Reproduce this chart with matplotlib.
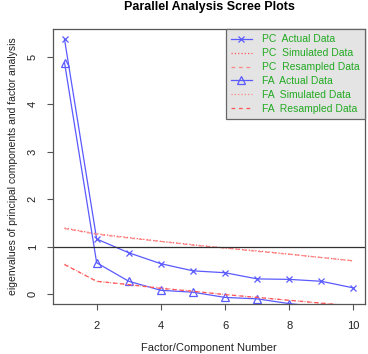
import matplotlib
matplotlib.use("Agg")
import matplotlib.pyplot as plt

plt.rcParams['font.family'] = ['Liberation Sans', 'DejaVu Sans']

factors = [1, 2, 3, 4, 5, 6, 7, 8, 9, 10]
pc_actual = [5.36, 1.16, 0.87, 0.64, 0.49, 0.45, 0.32, 0.31, 0.27, 0.13]
pc_simulated = [1.39, 1.27, 1.19, 1.11, 1.04, 0.97, 0.91, 0.84, 0.77, 0.70]
pc_resampled = [1.38, 1.26, 1.18, 1.11, 1.03, 0.97, 0.90, 0.84, 0.77, 0.70]
fa_actual = [4.87, 0.66, 0.27, 0.08, 0.04, -0.07, -0.10, -0.20, -0.27, -0.33]
fa_simulated = [0.63, 0.27, 0.20, 0.13, 0.06, -0.01, -0.07, -0.13, -0.19, -0.25]
fa_resampled = [0.62, 0.27, 0.20, 0.12, 0.06, -0.01, -0.07, -0.13, -0.19, -0.25]

blue = '#5a5aff'
red = '#ff5555'
light_red = '#ff8888'

fig = plt.figure(figsize=(3.68, 3.54), dpi=100)
ax = fig.add_axes([0.144, 0.141, 0.848, 0.777])

ax.plot(factors, pc_actual, color=blue, lw=0.9, marker='x', ms=5, mew=0.9,
        label='PC  Actual Data')
ax.plot(factors, pc_simulated, color=red, lw=0.9, ls=':', label='PC  Simulated Data')
ax.plot(factors, pc_resampled, color=light_red, lw=0.9, ls=(0, (3, 3)),
        label='PC  Resampled Data')
ax.plot(factors, fa_actual, color=blue, lw=0.9, marker='^', ms=6, mew=0.9,
        fillstyle='none', label='FA  Actual Data')
ax.plot(factors, fa_simulated, color=light_red, lw=0.9, ls=':', label='FA  Simulated Data')
ax.plot(factors, fa_resampled, color=red, lw=0.9, ls=(0, (3, 3)),
        label='FA  Resampled Data')
ax.axhline(1, color='#303030', lw=0.9)

ax.set_xlim(0.64, 10.36)
ax.set_ylim(-0.21, 5.58)
ax.set_xticks([2, 4, 6, 8, 10])
ax.set_yticks([0, 1, 2, 3, 4, 5])
ax.tick_params(labelsize=8, length=4, color='#555555', labelcolor='#222222')
ax.tick_params(axis='x', pad=8)
ax.tick_params(axis='y', pad=7)
for lbl in ax.get_yticklabels():
    lbl.set_rotation(90)
    lbl.set_va('center')
for s in ax.spines.values():
    s.set_color('#555555')
    s.set_linewidth(0.9)

ax.set_title('Parallel Analysis Scree Plots', fontsize=9, fontweight='bold',
             pad=14)
ax.set_xlabel('Factor/Component Number', fontsize=8, labelpad=9, color='#222222')
ax.set_ylabel('eigenvalues of principal components and factor analysis',
              fontsize=7.5, labelpad=7, color='#222222')

leg = ax.legend(loc='upper right', fontsize=7.5, frameon=True, fancybox=False,
                borderaxespad=0, facecolor='#e4e4e4', edgecolor='#666666',
                labelcolor='#22aa22', handlelength=2.0, handletextpad=1.0,
                labelspacing=0.38, borderpad=0.5)
leg.get_frame().set_linewidth(0.9)
leg.get_frame().set_alpha(1)

fig.savefig('out.png', dpi=100)
